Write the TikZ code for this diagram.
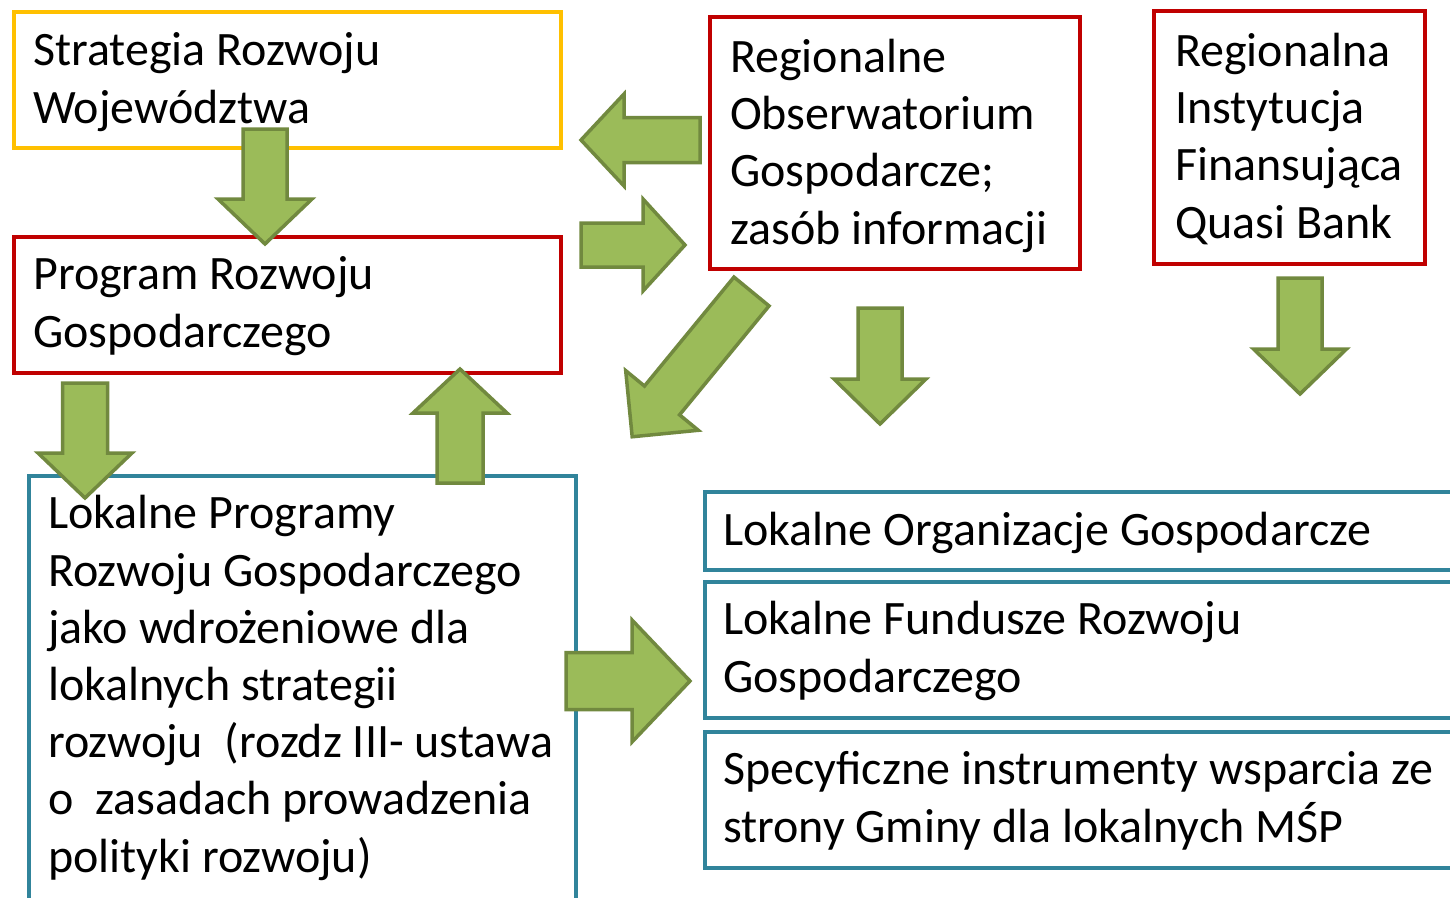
\documentclass[tikz,border=0pt]{standalone}
\usepackage{fontspec}
\setmainfont{Carlito}
\definecolor{ylw}{HTML}{FFC000}
\definecolor{rd}{HTML}{C00000}
\definecolor{tl}{HTML}{31849B}
\definecolor{gfill}{HTML}{9BBB59}
\definecolor{gline}{HTML}{71893F}
\newcommand\barr[6]{\draw[garrow,shift={(#1)},rotate=#2] (0,#4) -- ({#3-#6},#4) -- ({#3-#6},#5) -- (#3,0) -- ({#3-#6},-#5) -- ({#3-#6},-#4) -- (0,-#4) -- cycle;}
\begin{document}
\begin{tikzpicture}[x=1pt,y=-1pt,
  box/.style={draw=#1, line width=4pt, rectangle, inner sep=0pt, anchor=north west},
  txt/.style={inner sep=0pt, anchor=base west, align=left, font=\fontsize{48}{57.2}\selectfont},
  garrow/.style={fill=gfill, draw=gline, line width=3.5pt, line join=miter}]
\useasboundingbox (0,0) rectangle (1450,897);
\clip (0,0) rectangle (1450,897);
% boxes
\node[box=ylw, minimum width=547pt, minimum height=136pt] (sr) at (12,10) {};
\node[box=rd, minimum width=547pt, minimum height=136pt] (prg) at (12,235) {};
\node[box=rd, minimum width=370pt, minimum height=252pt] (obs) at (708,15) {};
\node[box=rd, minimum width=271pt, minimum height=253pt] (rif) at (1152,9) {};
\node[box=tl, minimum width=547pt, minimum height=440pt] (lpr) at (27,474) {};
\node[box=tl, minimum width=760pt, minimum height=78pt] (log) at (703,490) {};
\node[box=tl, minimum width=760pt, minimum height=136pt] (lfr) at (703,580) {};
\node[box=tl, minimum width=760pt, minimum height=136pt] (sig) at (703,730) {};
% texts (anchored at the baseline of the last line)
\node[txt] (sr-t) at (33,123) {Strategia Rozwoju\\Województwa};
\node[txt] (prg-t) at (33,347) {Program Rozwoju\\Gospodarczego};
\node[txt] (obs-t) at (730,244) {Regionalne\\Obserwatorium\\Gospodarcze;\\zasób informacji};
\node[txt] (rif-t) at (1175,238) {Regionalna\\Instytucja\\Finansująca\\Quasi Bank};
\node[txt] (lpr-t) at (48,872) {Lokalne Programy\\Rozwoju Gospodarczego\\jako wdrożeniowe dla\\lokalnych strategii\\rozwoju\ \ (rozdz III- ustawa\\o\ \ zasadach prowadzenia\\polityki rozwoju)};
\node[txt] (log-t) at (723,545) {Lokalne Organizacje Gospodarcze};
\node[txt] (lfr-t) at (723,692) {Lokalne Fundusze Rozwoju\\Gospodarczego};
\node[txt] (sig-t) at (723,842) {Specyficzne instrumenty wsparcia ze\\strony Gminy dla lokalnych MŚP};
% block arrows
\barr{265,129}{-90}{115}{22}{47}{45}
\barr{700,140}{180}{119}{22.5}{46}{43}
\barr{581,245}{0}{104}{22}{46}{42}
\barr{751.5,291.5}{-129.4}{188}{22.7}{47}{47}
\barr{880,308}{-90}{116}{22}{46}{45}
\barr{1300,278}{-90}{116}{22}{46.5}{45}
\barr{85,383}{-90}{115}{22.5}{47}{45}
\barr{460,483}{90}{114}{23}{47}{44}
\barr{566,681}{0}{124}{28.5}{61}{58}
\end{tikzpicture}
\end{document}
